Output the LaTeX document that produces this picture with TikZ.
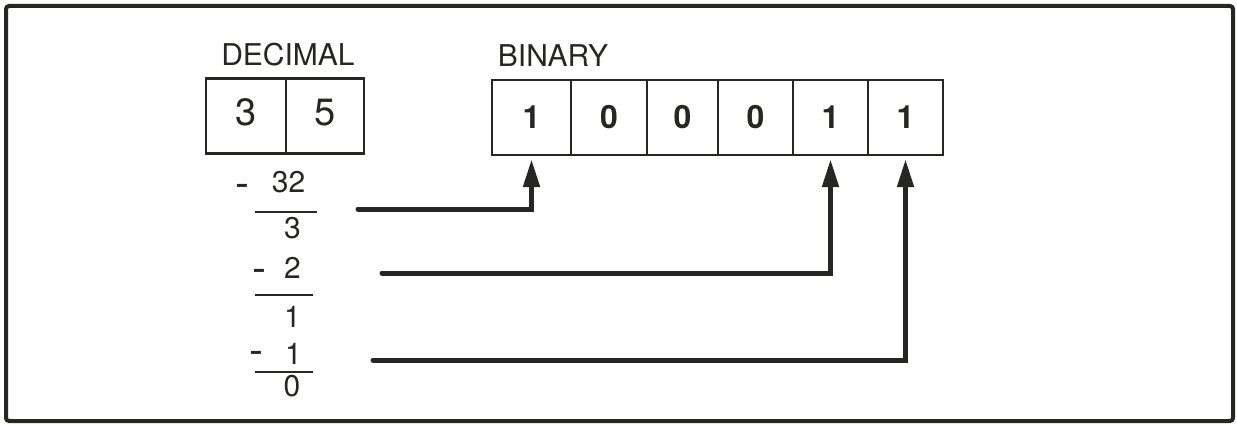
\documentclass[tikz,border=0pt]{standalone}
\usepackage{fontspec}
\setmainfont{TeX Gyre Heros}
\usetikzlibrary{arrows.meta}
\definecolor{ink}{RGB}{38,38,34}
\begin{document}
\begin{tikzpicture}[x=1pt,y=-1pt,
  frame/.style={draw=ink, line width=4pt, rounded corners=3pt},
  cell/.style={draw=ink, line width=2.4pt, inner sep=0pt, minimum height=75pt, text=ink},
  deccell/.style={cell, text depth=8pt, font=\fontsize{38}{38}\selectfont},
  bincell/.style={cell, font=\fontsize{32}{32}\selectfont\bfseries},
  heading/.style={anchor=base, inner sep=0pt, text=ink, font=\fontsize{30}{30}\selectfont},
  figure/.style={anchor=base, inner sep=0pt, text=ink, font=\fontsize{30}{30}\selectfont},
  minus/.style={anchor=base, inner sep=0pt, text=ink, font=\fontsize{42}{42}\selectfont},
  rule/.style={draw=ink, line width=2.6pt},
  carry/.style={draw=ink, line width=5pt, line cap=round,
    -{Triangle[length=28pt,width=16pt]}, shorten >=3pt}]
\useasboundingbox (0,0) rectangle (1237,425);

% outer frame
\draw[frame] (6,6) rectangle (1233,421);

% decimal number
\node[heading] (declabel) at (288,66) {DECIMAL};
\node[deccell, minimum width=80pt] (d1) at (246,116) {3};
\node[deccell, minimum width=78pt] (d0) at (325,116) {5};

% binary number, most significant bit first
\node[heading] (binlabel) at (553,67) {BINARY};
\node[bincell, minimum width=79pt] (b5) at (531.5,117.5) {1};
\node[bincell, minimum width=76pt] (b4) at (609,117.5) {0};
\node[bincell, minimum width=71pt] (b3) at (682.5,117.5) {0};
\node[bincell, minimum width=75pt] (b2) at (755.5,117.5) {0};
\node[bincell, minimum width=75pt] (b1) at (830.5,117.5) {1};
\node[bincell, minimum width=75pt] (b0) at (905.5,117.5) {1};

% repeated subtraction of powers of two
\node[minus] (m32) at (242.5,197) {-};
\node[figure] (p32) at (288.5,193) {32};
\draw[rule] (255,212) -- (317,212);
\node[figure] (r3) at (292.5,238) {3};
\node[minus] (m2) at (259,282) {-};
\node[figure] (p2) at (292.5,278) {2};
\draw[rule] (255,295) -- (313,295);
\node[figure] (r1) at (292.5,327) {1};
\node[minus] (m1) at (256,364) {-};
\node[figure] (p1) at (293.5,364) {1};
\draw[rule] (255,372) -- (313,372);
\node[figure] (r0) at (292,396) {0};

% each subtracted power sets one bit
\coordinate (s32) at (358,209);
\coordinate (s2) at (382,273);
\coordinate (s1) at (373,360);
\draw[carry] (s32) -| (b5.south);
\draw[carry] (s2) -| (b1.south);
\draw[carry] (s1) -| (b0.south);
\end{tikzpicture}
\end{document}
